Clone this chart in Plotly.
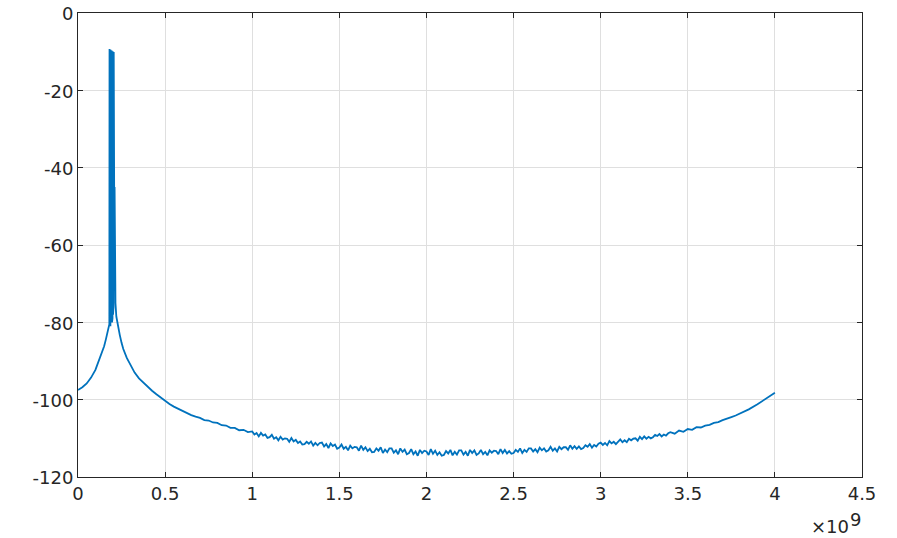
import plotly.graph_objects as go

# Frequency in units of 1e9 Hz, level in dB
freq_ghz = [
    0.000, 0.025, 0.050, 0.075, 0.100, 0.120, 0.140, 0.150, 0.160, 0.170, 0.176,
    0.180, 0.181, 0.183, 0.184, 0.186, 0.187, 0.189, 0.190, 0.192, 0.193, 0.195,
    0.196, 0.198, 0.199, 0.201, 0.202, 0.204, 0.205, 0.206, 0.207, 0.209, 0.210,
    0.212, 0.215, 0.220, 0.230, 0.240, 0.250, 0.260, 0.280, 0.300, 0.325, 0.350,
    0.375, 0.400, 0.425, 0.450, 0.475, 0.500, 0.525, 0.550, 0.575, 0.600, 0.625,
    0.650, 0.675,
    0.700, 0.725, 0.750, 0.775, 0.800, 0.825, 0.850, 0.875, 0.900, 0.925, 0.950,
    0.975,
    1.0000, 1.0125, 1.0250, 1.0375, 1.0500, 1.0625, 1.0750, 1.0875,
    1.1000, 1.1125, 1.1250, 1.1375, 1.1500, 1.1625, 1.1750, 1.1875,
    1.2000, 1.2125, 1.2250, 1.2375, 1.2500, 1.2625, 1.2750, 1.2875,
    1.3000, 1.3125, 1.3250, 1.3375, 1.3500, 1.3625, 1.3750, 1.3875,
    1.4000, 1.4125, 1.4250, 1.4375, 1.4500, 1.4625, 1.4750, 1.4875,
    1.5000, 1.5125, 1.5250, 1.5375, 1.5500, 1.5625, 1.5750, 1.5875,
    1.6000, 1.6125, 1.6250, 1.6375, 1.6500, 1.6625, 1.6750, 1.6875,
    1.7000, 1.7125, 1.7250, 1.7375, 1.7500, 1.7625, 1.7750, 1.7875,
    1.8000, 1.8125, 1.8250, 1.8375, 1.8500, 1.8625, 1.8750, 1.8875,
    1.9000, 1.9125, 1.9250, 1.9375, 1.9500, 1.9625, 1.9750, 1.9875,
    2.0000, 2.0125, 2.0250, 2.0375, 2.0500, 2.0625, 2.0750, 2.0875,
    2.1000, 2.1125, 2.1250, 2.1375, 2.1500, 2.1625, 2.1750, 2.1875,
    2.2000, 2.2125, 2.2250, 2.2375, 2.2500, 2.2625, 2.2750, 2.2875,
    2.3000, 2.3125, 2.3250, 2.3375, 2.3500, 2.3625, 2.3750, 2.3875,
    2.4000, 2.4125, 2.4250, 2.4375, 2.4500, 2.4625, 2.4750, 2.4875,
    2.5000, 2.5125, 2.5250, 2.5375, 2.5500, 2.5625, 2.5750, 2.5875,
    2.6000, 2.6125, 2.6250, 2.6375, 2.6500, 2.6625, 2.6750, 2.6875,
    2.7000, 2.7125, 2.7250, 2.7375, 2.7500, 2.7625, 2.7750, 2.7875,
    2.8000, 2.8125, 2.8250, 2.8375, 2.8500, 2.8625, 2.8750, 2.8875,
    2.9000, 2.9125, 2.9250, 2.9375, 2.9500, 2.9625, 2.9750, 2.9875,
    3.0000, 3.0125, 3.0250, 3.0375, 3.0500, 3.0625, 3.0750, 3.0875,
    3.1000, 3.1125, 3.1250, 3.1375, 3.1500, 3.1625, 3.1750, 3.1875,
    3.2000, 3.2125, 3.2250, 3.2375, 3.2500, 3.2625, 3.2750, 3.2875,
    3.3000, 3.3125, 3.3250, 3.3375, 3.3500, 3.3625, 3.3750, 3.3875,
    3.400, 3.425, 3.450, 3.475, 3.500, 3.525, 3.550, 3.575, 3.600, 3.625, 3.650,
    3.675, 3.700, 3.725, 3.750, 3.775, 3.800, 3.850, 3.900, 3.950, 4.000,
]

level_db = [
    -97.5, -96.8, -95.8, -94.3, -92.3, -90.0, -87.8, -86.2, -84.4, -82.6, -81.3,
    -80.5, -9.3, -80.0, -9.4, -81.0, -9.5, -80.0, -9.6, -79.0, -9.7, -80.0,
    -9.8, -79.0, -9.9, -78.0, -10.0, -76.0, -10.1, -60.0, -30.0, -65.0, -45.0,
    -72.0, -75.0, -78.5, -81.5, -83.3, -85.3, -86.9, -89.2, -91.0, -93.0, -94.5,
    -95.6, -96.7, -97.7, -98.6, -99.5, -100.3, -101.1, -101.8, -102.4, -103.0, -103.5,
    -104.0, -104.4,
    -104.7, -105.3, -105.4, -105.9, -106.0, -106.6, -106.7, -107.3, -107.3, -107.9, -107.8,
    -108.4,
    -108.2, -109.0, -108.6, -109.5, -108.6, -109.3, -109.0, -109.9,
    -109.7, -109.1, -110.1, -109.7, -110.5, -109.6, -110.3, -110.0,
    -110.1, -110.9, -109.9, -110.8, -110.4, -111.2, -110.8, -111.6,
    -111.5, -110.9, -111.4, -110.8, -111.9, -111.2, -111.8, -111.2,
    -111.1, -112.1, -111.5, -112.5, -111.3, -112.0, -111.6, -112.7,
    -112.4, -111.6, -112.7, -112.2, -113.1, -111.9, -112.6, -112.2,
    -112.3, -113.2, -111.9, -113.0, -112.3, -113.3, -112.7, -113.6,
    -113.5, -112.6, -113.2, -112.3, -113.8, -112.9, -113.6, -112.6,
    -112.6, -113.7, -113.1, -114.1, -112.6, -113.5, -112.9, -114.1,
    -113.8, -112.8, -114.1, -113.4, -114.5, -113.0, -113.8, -113.2,
    -113.4, -114.3, -112.8, -114.0, -113.2, -114.3, -113.6, -114.5,
    -114.3, -113.3, -113.9, -113.0, -114.4, -113.5, -114.2, -113.1,
    -113.1, -114.2, -113.5, -114.5, -113.0, -113.8, -113.1, -114.3,
    -113.9, -113.0, -114.1, -113.5, -114.4, -113.1, -113.7, -113.2,
    -113.3, -114.1, -112.8, -113.8, -113.0, -113.9, -113.3, -114.0,
    -113.8, -113.0, -113.5, -112.6, -113.8, -113.0, -113.5, -112.6,
    -112.6, -113.4, -112.8, -113.6, -112.4, -113.1, -112.6, -113.4,
    -113.1, -112.2, -113.2, -112.6, -113.4, -112.2, -112.8, -112.3,
    -112.3, -113.0, -111.8, -112.7, -112.0, -112.7, -112.1, -112.8,
    -112.5, -111.8, -112.2, -111.5, -112.4, -111.7, -112.1, -111.4,
    -111.1, -111.7, -111.2, -111.8, -110.7, -111.3, -110.9, -111.5,
    -111.0, -110.3, -111.0, -110.5, -111.0, -110.1, -110.5, -110.1,
    -110.0, -110.6, -109.6, -110.2, -109.5, -110.1, -109.6, -110.0,
    -109.7, -109.1, -109.4, -108.9, -109.5, -109.0, -109.3, -108.7,
    -108.4, -108.8, -108.0, -108.3, -107.6, -107.8, -107.1, -107.2, -106.7, -106.5, -106.0,
    -105.8, -105.3, -105.0, -104.5, -104.1, -103.6, -102.5, -101.2, -99.8, -98.2,
]

x_tick_vals = [0, 0.5, 1, 1.5, 2, 2.5, 3, 3.5, 4, 4.5]
x_tick_text = ["0", "0.5", "1", "1.5", "2", "2.5", "3", "3.5", "4", "4.5"]
y_tick_vals = [-120, -100, -80, -60, -40, -20, 0]
y_tick_text = ["-120", "-100", "-80", "-60", "-40", "-20", "0"]
x_exponent_base = "×10"
x_exponent_power = "9"

axis_color = "#262626"
grid_color = "#dfdfdf"
font = dict(family="DejaVu Sans, Liberation Sans, sans-serif", size=18, color=axis_color)

fig = go.Figure()
fig.add_trace(go.Scatter(
    x=freq_ghz, y=level_db, mode="lines",
    line=dict(color="#0072BD", width=1.8),
    showlegend=False, hoverinfo="skip",
))

common_axis = dict(
    showline=True, linecolor=axis_color, linewidth=1, mirror="ticks",
    ticks="inside", ticklen=5, tickcolor=axis_color, tickwidth=1,
    showgrid=True, gridcolor=grid_color, gridwidth=1,
    zeroline=False, tickfont=font, automargin=False,
    ticklabeloverflow="allow",
)

fig.update_xaxes(range=[0, 4.5], tickvals=x_tick_vals, ticktext=x_tick_text, **common_axis)
fig.update_yaxes(range=[-120, 0], tickvals=y_tick_vals, ticktext=y_tick_text,
                 ticklabelshift=1, **common_axis)

fig.add_annotation(
    xref="paper", yref="paper", x=1.0, y=0.0, xanchor="right", yanchor="middle",
    xshift=-11, yshift=-49, text=x_exponent_base, showarrow=False, font=font,
)
fig.add_annotation(
    xref="paper", yref="paper", x=1.0, y=0.0, xanchor="right", yanchor="middle",
    xshift=1, yshift=-42, text=x_exponent_power, showarrow=False, font=font,
)

fig.update_layout(
    width=897, height=538,
    margin=dict(l=78, r=35, t=13, b=61),
    paper_bgcolor="white", plot_bgcolor="white",
    font=font,
)

fig.write_html(
    "out.html",
    config={"displayModeBar": False},
    post_script="document.body.style.margin='0';",
)
